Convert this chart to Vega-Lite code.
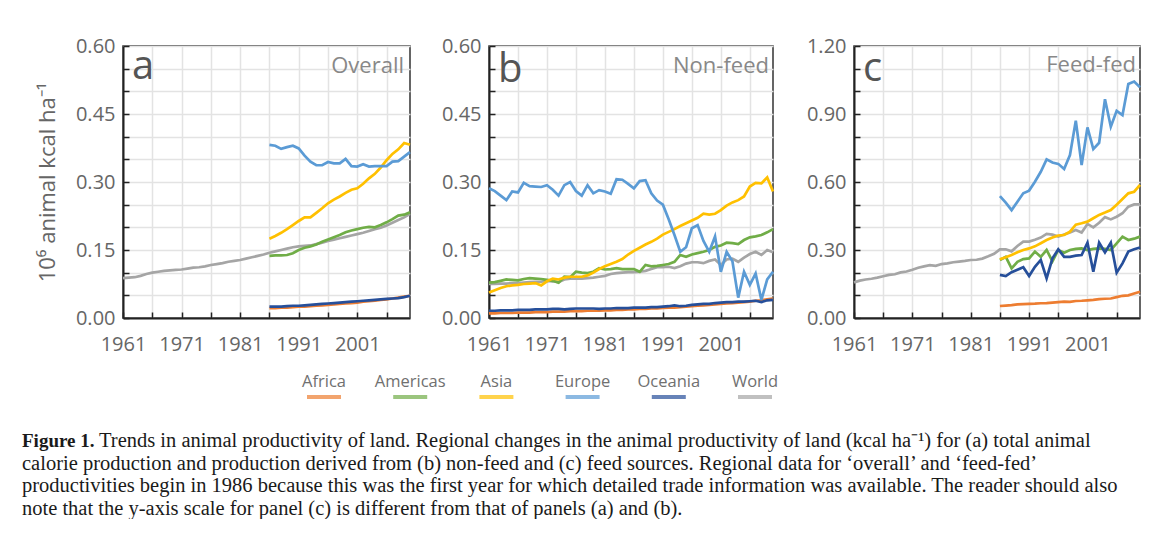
{
  "$schema": "https://vega.github.io/schema/vega-lite/v6.json",
  "background": "white",
  "padding": {"left": 22, "top": 35, "right": 0, "bottom": 0},
  "datasets": {
    "overall": [
      {"region":"World","year":1961,"value":0.088},{"region":"World","year":1962,"value":0.089},{"region":"World","year":1963,"value":0.090},{"region":"World","year":1964,"value":0.093},{"region":"World","year":1965,"value":0.097},
      {"region":"World","year":1966,"value":0.100},{"region":"World","year":1967,"value":0.102},{"region":"World","year":1968,"value":0.104},{"region":"World","year":1969,"value":0.105},{"region":"World","year":1970,"value":0.106},
      {"region":"World","year":1971,"value":0.107},{"region":"World","year":1972,"value":0.109},{"region":"World","year":1973,"value":0.111},{"region":"World","year":1974,"value":0.112},{"region":"World","year":1975,"value":0.114},
      {"region":"World","year":1976,"value":0.117},{"region":"World","year":1977,"value":0.119},{"region":"World","year":1978,"value":0.121},{"region":"World","year":1979,"value":0.124},{"region":"World","year":1980,"value":0.126},
      {"region":"World","year":1981,"value":0.128},{"region":"World","year":1982,"value":0.131},{"region":"World","year":1983,"value":0.134},{"region":"World","year":1984,"value":0.137},{"region":"World","year":1985,"value":0.140},
      {"region":"World","year":1986,"value":0.144},{"region":"World","year":1987,"value":0.147},{"region":"World","year":1988,"value":0.150},{"region":"World","year":1989,"value":0.153},{"region":"World","year":1990,"value":0.156},
      {"region":"World","year":1991,"value":0.158},{"region":"World","year":1992,"value":0.159},{"region":"World","year":1993,"value":0.160},{"region":"World","year":1994,"value":0.163},{"region":"World","year":1995,"value":0.166},
      {"region":"World","year":1996,"value":0.170},{"region":"World","year":1997,"value":0.173},{"region":"World","year":1998,"value":0.176},{"region":"World","year":1999,"value":0.179},{"region":"World","year":2000,"value":0.182},
      {"region":"World","year":2001,"value":0.185},{"region":"World","year":2002,"value":0.188},{"region":"World","year":2003,"value":0.192},{"region":"World","year":2004,"value":0.196},{"region":"World","year":2005,"value":0.199},
      {"region":"World","year":2006,"value":0.204},{"region":"World","year":2007,"value":0.210},{"region":"World","year":2008,"value":0.216},{"region":"World","year":2009,"value":0.222},{"region":"World","year":2010,"value":0.230},
      {"region":"Africa","year":1986,"value":0.022},{"region":"Africa","year":1987,"value":0.022},{"region":"Africa","year":1988,"value":0.023},{"region":"Africa","year":1989,"value":0.023},{"region":"Africa","year":1990,"value":0.024},
      {"region":"Africa","year":1991,"value":0.025},{"region":"Africa","year":1992,"value":0.025},{"region":"Africa","year":1993,"value":0.026},{"region":"Africa","year":1994,"value":0.027},{"region":"Africa","year":1995,"value":0.028},
      {"region":"Africa","year":1996,"value":0.029},{"region":"Africa","year":1997,"value":0.030},{"region":"Africa","year":1998,"value":0.031},{"region":"Africa","year":1999,"value":0.032},{"region":"Africa","year":2000,"value":0.033},
      {"region":"Africa","year":2001,"value":0.034},{"region":"Africa","year":2002,"value":0.036},{"region":"Africa","year":2003,"value":0.037},{"region":"Africa","year":2004,"value":0.038},{"region":"Africa","year":2005,"value":0.040},
      {"region":"Africa","year":2006,"value":0.041},{"region":"Africa","year":2007,"value":0.043},{"region":"Africa","year":2008,"value":0.045},{"region":"Africa","year":2009,"value":0.047},{"region":"Africa","year":2010,"value":0.049},
      {"region":"Americas","year":1986,"value":0.137},{"region":"Americas","year":1987,"value":0.138},{"region":"Americas","year":1988,"value":0.138},{"region":"Americas","year":1989,"value":0.139},{"region":"Americas","year":1990,"value":0.143},
      {"region":"Americas","year":1991,"value":0.150},{"region":"Americas","year":1992,"value":0.155},{"region":"Americas","year":1993,"value":0.158},{"region":"Americas","year":1994,"value":0.162},{"region":"Americas","year":1995,"value":0.168},
      {"region":"Americas","year":1996,"value":0.173},{"region":"Americas","year":1997,"value":0.178},{"region":"Americas","year":1998,"value":0.183},{"region":"Americas","year":1999,"value":0.189},{"region":"Americas","year":2000,"value":0.193},
      {"region":"Americas","year":2001,"value":0.196},{"region":"Americas","year":2002,"value":0.199},{"region":"Americas","year":2003,"value":0.201},{"region":"Americas","year":2004,"value":0.200},{"region":"Americas","year":2005,"value":0.205},
      {"region":"Americas","year":2006,"value":0.211},{"region":"Americas","year":2007,"value":0.218},{"region":"Americas","year":2008,"value":0.226},{"region":"Americas","year":2009,"value":0.228},{"region":"Americas","year":2010,"value":0.233},
      {"region":"Asia","year":1986,"value":0.175},{"region":"Asia","year":1987,"value":0.181},{"region":"Asia","year":1988,"value":0.188},{"region":"Asia","year":1989,"value":0.196},{"region":"Asia","year":1990,"value":0.205},
      {"region":"Asia","year":1991,"value":0.214},{"region":"Asia","year":1992,"value":0.222},{"region":"Asia","year":1993,"value":0.222},{"region":"Asia","year":1994,"value":0.232},{"region":"Asia","year":1995,"value":0.242},
      {"region":"Asia","year":1996,"value":0.253},{"region":"Asia","year":1997,"value":0.261},{"region":"Asia","year":1998,"value":0.268},{"region":"Asia","year":1999,"value":0.276},{"region":"Asia","year":2000,"value":0.283},
      {"region":"Asia","year":2001,"value":0.286},{"region":"Asia","year":2002,"value":0.296},{"region":"Asia","year":2003,"value":0.308},{"region":"Asia","year":2004,"value":0.318},{"region":"Asia","year":2005,"value":0.332},
      {"region":"Asia","year":2006,"value":0.348},{"region":"Asia","year":2007,"value":0.362},{"region":"Asia","year":2008,"value":0.372},{"region":"Asia","year":2009,"value":0.386},{"region":"Asia","year":2010,"value":0.382},
      {"region":"Europe","year":1986,"value":0.382},{"region":"Europe","year":1987,"value":0.380},{"region":"Europe","year":1988,"value":0.373},{"region":"Europe","year":1989,"value":0.377},{"region":"Europe","year":1990,"value":0.380},
      {"region":"Europe","year":1991,"value":0.374},{"region":"Europe","year":1992,"value":0.358},{"region":"Europe","year":1993,"value":0.345},{"region":"Europe","year":1994,"value":0.337},{"region":"Europe","year":1995,"value":0.337},
      {"region":"Europe","year":1996,"value":0.344},{"region":"Europe","year":1997,"value":0.341},{"region":"Europe","year":1998,"value":0.341},{"region":"Europe","year":1999,"value":0.351},{"region":"Europe","year":2000,"value":0.335},
      {"region":"Europe","year":2001,"value":0.334},{"region":"Europe","year":2002,"value":0.339},{"region":"Europe","year":2003,"value":0.334},{"region":"Europe","year":2004,"value":0.335},{"region":"Europe","year":2005,"value":0.335},
      {"region":"Europe","year":2006,"value":0.335},{"region":"Europe","year":2007,"value":0.345},{"region":"Europe","year":2008,"value":0.346},{"region":"Europe","year":2009,"value":0.356},{"region":"Europe","year":2010,"value":0.366},
      {"region":"Oceania","year":1986,"value":0.025},{"region":"Oceania","year":1987,"value":0.025},{"region":"Oceania","year":1988,"value":0.025},{"region":"Oceania","year":1989,"value":0.026},{"region":"Oceania","year":1990,"value":0.027},
      {"region":"Oceania","year":1991,"value":0.027},{"region":"Oceania","year":1992,"value":0.028},{"region":"Oceania","year":1993,"value":0.029},{"region":"Oceania","year":1994,"value":0.030},{"region":"Oceania","year":1995,"value":0.031},
      {"region":"Oceania","year":1996,"value":0.032},{"region":"Oceania","year":1997,"value":0.033},{"region":"Oceania","year":1998,"value":0.034},{"region":"Oceania","year":1999,"value":0.035},{"region":"Oceania","year":2000,"value":0.036},
      {"region":"Oceania","year":2001,"value":0.037},{"region":"Oceania","year":2002,"value":0.038},{"region":"Oceania","year":2003,"value":0.039},{"region":"Oceania","year":2004,"value":0.040},{"region":"Oceania","year":2005,"value":0.041},
      {"region":"Oceania","year":2006,"value":0.042},{"region":"Oceania","year":2007,"value":0.043},{"region":"Oceania","year":2008,"value":0.044},{"region":"Oceania","year":2009,"value":0.046},{"region":"Oceania","year":2010,"value":0.049}
    ],
    "nonfeed": [
      {"region":"World","year":1961,"value":0.075},{"region":"World","year":1962,"value":0.075},{"region":"World","year":1963,"value":0.076},{"region":"World","year":1964,"value":0.076},{"region":"World","year":1965,"value":0.077},
      {"region":"World","year":1966,"value":0.077},{"region":"World","year":1967,"value":0.078},{"region":"World","year":1968,"value":0.079},{"region":"World","year":1969,"value":0.080},{"region":"World","year":1970,"value":0.080},
      {"region":"World","year":1971,"value":0.082},{"region":"World","year":1972,"value":0.081},{"region":"World","year":1973,"value":0.079},{"region":"World","year":1974,"value":0.085},{"region":"World","year":1975,"value":0.087},
      {"region":"World","year":1976,"value":0.087},{"region":"World","year":1977,"value":0.087},{"region":"World","year":1978,"value":0.088},{"region":"World","year":1979,"value":0.089},{"region":"World","year":1980,"value":0.091},
      {"region":"World","year":1981,"value":0.093},{"region":"World","year":1982,"value":0.097},{"region":"World","year":1983,"value":0.099},{"region":"World","year":1984,"value":0.100},{"region":"World","year":1985,"value":0.101},
      {"region":"World","year":1986,"value":0.101},{"region":"World","year":1987,"value":0.102},{"region":"World","year":1988,"value":0.104},{"region":"World","year":1989,"value":0.108},{"region":"World","year":1990,"value":0.112},
      {"region":"World","year":1991,"value":0.112},{"region":"World","year":1992,"value":0.113},{"region":"World","year":1993,"value":0.110},{"region":"World","year":1994,"value":0.114},{"region":"World","year":1995,"value":0.120},
      {"region":"World","year":1996,"value":0.123},{"region":"World","year":1997,"value":0.123},{"region":"World","year":1998,"value":0.121},{"region":"World","year":1999,"value":0.126},{"region":"World","year":2000,"value":0.129},
      {"region":"World","year":2001,"value":0.117},{"region":"World","year":2002,"value":0.129},{"region":"World","year":2003,"value":0.131},{"region":"World","year":2004,"value":0.124},{"region":"World","year":2005,"value":0.133},
      {"region":"World","year":2006,"value":0.141},{"region":"World","year":2007,"value":0.146},{"region":"World","year":2008,"value":0.139},{"region":"World","year":2009,"value":0.150},{"region":"World","year":2010,"value":0.145},
      {"region":"Africa","year":1961,"value":0.010},{"region":"Africa","year":1962,"value":0.010},{"region":"Africa","year":1963,"value":0.011},{"region":"Africa","year":1964,"value":0.011},{"region":"Africa","year":1965,"value":0.011},
      {"region":"Africa","year":1966,"value":0.012},{"region":"Africa","year":1967,"value":0.012},{"region":"Africa","year":1968,"value":0.012},{"region":"Africa","year":1969,"value":0.013},{"region":"Africa","year":1970,"value":0.013},
      {"region":"Africa","year":1971,"value":0.013},{"region":"Africa","year":1972,"value":0.014},{"region":"Africa","year":1973,"value":0.014},{"region":"Africa","year":1974,"value":0.014},{"region":"Africa","year":1975,"value":0.015},
      {"region":"Africa","year":1976,"value":0.015},{"region":"Africa","year":1977,"value":0.015},{"region":"Africa","year":1978,"value":0.016},{"region":"Africa","year":1979,"value":0.016},{"region":"Africa","year":1980,"value":0.016},
      {"region":"Africa","year":1981,"value":0.017},{"region":"Africa","year":1982,"value":0.017},{"region":"Africa","year":1983,"value":0.018},{"region":"Africa","year":1984,"value":0.018},{"region":"Africa","year":1985,"value":0.019},
      {"region":"Africa","year":1986,"value":0.019},{"region":"Africa","year":1987,"value":0.020},{"region":"Africa","year":1988,"value":0.020},{"region":"Africa","year":1989,"value":0.021},{"region":"Africa","year":1990,"value":0.021},
      {"region":"Africa","year":1991,"value":0.022},{"region":"Africa","year":1992,"value":0.023},{"region":"Africa","year":1993,"value":0.023},{"region":"Africa","year":1994,"value":0.024},{"region":"Africa","year":1995,"value":0.025},
      {"region":"Africa","year":1996,"value":0.026},{"region":"Africa","year":1997,"value":0.027},{"region":"Africa","year":1998,"value":0.028},{"region":"Africa","year":1999,"value":0.029},{"region":"Africa","year":2000,"value":0.030},
      {"region":"Africa","year":2001,"value":0.031},{"region":"Africa","year":2002,"value":0.032},{"region":"Africa","year":2003,"value":0.033},{"region":"Africa","year":2004,"value":0.034},{"region":"Africa","year":2005,"value":0.035},
      {"region":"Africa","year":2006,"value":0.036},{"region":"Africa","year":2007,"value":0.038},{"region":"Africa","year":2008,"value":0.039},{"region":"Africa","year":2009,"value":0.041},{"region":"Africa","year":2010,"value":0.043},
      {"region":"Americas","year":1961,"value":0.078},{"region":"Americas","year":1962,"value":0.079},{"region":"Americas","year":1963,"value":0.082},{"region":"Americas","year":1964,"value":0.085},{"region":"Americas","year":1965,"value":0.084},
      {"region":"Americas","year":1966,"value":0.083},{"region":"Americas","year":1967,"value":0.086},{"region":"Americas","year":1968,"value":0.088},{"region":"Americas","year":1969,"value":0.087},{"region":"Americas","year":1970,"value":0.086},
      {"region":"Americas","year":1971,"value":0.084},{"region":"Americas","year":1972,"value":0.082},{"region":"Americas","year":1973,"value":0.078},{"region":"Americas","year":1974,"value":0.091},{"region":"Americas","year":1975,"value":0.090},
      {"region":"Americas","year":1976,"value":0.102},{"region":"Americas","year":1977,"value":0.100},{"region":"Americas","year":1978,"value":0.099},{"region":"Americas","year":1979,"value":0.102},{"region":"Americas","year":1980,"value":0.110},
      {"region":"Americas","year":1981,"value":0.107},{"region":"Americas","year":1982,"value":0.108},{"region":"Americas","year":1983,"value":0.110},{"region":"Americas","year":1984,"value":0.108},{"region":"Americas","year":1985,"value":0.108},
      {"region":"Americas","year":1986,"value":0.108},{"region":"Americas","year":1987,"value":0.102},{"region":"Americas","year":1988,"value":0.117},{"region":"Americas","year":1989,"value":0.114},{"region":"Americas","year":1990,"value":0.115},
      {"region":"Americas","year":1991,"value":0.117},{"region":"Americas","year":1992,"value":0.119},{"region":"Americas","year":1993,"value":0.124},{"region":"Americas","year":1994,"value":0.139},{"region":"Americas","year":1995,"value":0.135},
      {"region":"Americas","year":1996,"value":0.140},{"region":"Americas","year":1997,"value":0.143},{"region":"Americas","year":1998,"value":0.146},{"region":"Americas","year":1999,"value":0.150},{"region":"Americas","year":2000,"value":0.157},
      {"region":"Americas","year":2001,"value":0.160},{"region":"Americas","year":2002,"value":0.166},{"region":"Americas","year":2003,"value":0.165},{"region":"Americas","year":2004,"value":0.163},{"region":"Americas","year":2005,"value":0.172},
      {"region":"Americas","year":2006,"value":0.178},{"region":"Americas","year":2007,"value":0.180},{"region":"Americas","year":2008,"value":0.183},{"region":"Americas","year":2009,"value":0.189},{"region":"Americas","year":2010,"value":0.196},
      {"region":"Asia","year":1961,"value":0.056},{"region":"Asia","year":1962,"value":0.061},{"region":"Asia","year":1963,"value":0.066},{"region":"Asia","year":1964,"value":0.070},{"region":"Asia","year":1965,"value":0.072},
      {"region":"Asia","year":1966,"value":0.073},{"region":"Asia","year":1967,"value":0.075},{"region":"Asia","year":1968,"value":0.076},{"region":"Asia","year":1969,"value":0.077},{"region":"Asia","year":1970,"value":0.072},
      {"region":"Asia","year":1971,"value":0.081},{"region":"Asia","year":1972,"value":0.087},{"region":"Asia","year":1973,"value":0.085},{"region":"Asia","year":1974,"value":0.089},{"region":"Asia","year":1975,"value":0.091},
      {"region":"Asia","year":1976,"value":0.091},{"region":"Asia","year":1977,"value":0.091},{"region":"Asia","year":1978,"value":0.094},{"region":"Asia","year":1979,"value":0.100},{"region":"Asia","year":1980,"value":0.108},
      {"region":"Asia","year":1981,"value":0.114},{"region":"Asia","year":1982,"value":0.119},{"region":"Asia","year":1983,"value":0.124},{"region":"Asia","year":1984,"value":0.130},{"region":"Asia","year":1985,"value":0.140},
      {"region":"Asia","year":1986,"value":0.148},{"region":"Asia","year":1987,"value":0.155},{"region":"Asia","year":1988,"value":0.162},{"region":"Asia","year":1989,"value":0.168},{"region":"Asia","year":1990,"value":0.175},
      {"region":"Asia","year":1991,"value":0.184},{"region":"Asia","year":1992,"value":0.190},{"region":"Asia","year":1993,"value":0.196},{"region":"Asia","year":1994,"value":0.203},{"region":"Asia","year":1995,"value":0.209},
      {"region":"Asia","year":1996,"value":0.215},{"region":"Asia","year":1997,"value":0.221},{"region":"Asia","year":1998,"value":0.230},{"region":"Asia","year":1999,"value":0.228},{"region":"Asia","year":2000,"value":0.230},
      {"region":"Asia","year":2001,"value":0.238},{"region":"Asia","year":2002,"value":0.248},{"region":"Asia","year":2003,"value":0.255},{"region":"Asia","year":2004,"value":0.260},{"region":"Asia","year":2005,"value":0.268},
      {"region":"Asia","year":2006,"value":0.290},{"region":"Asia","year":2007,"value":0.298},{"region":"Asia","year":2008,"value":0.297},{"region":"Asia","year":2009,"value":0.310},{"region":"Asia","year":2010,"value":0.279},
      {"region":"Europe","year":1961,"value":0.286},{"region":"Europe","year":1962,"value":0.280},{"region":"Europe","year":1963,"value":0.270},{"region":"Europe","year":1964,"value":0.260},{"region":"Europe","year":1965,"value":0.279},
      {"region":"Europe","year":1966,"value":0.277},{"region":"Europe","year":1967,"value":0.298},{"region":"Europe","year":1968,"value":0.291},{"region":"Europe","year":1969,"value":0.290},{"region":"Europe","year":1970,"value":0.289},
      {"region":"Europe","year":1971,"value":0.293},{"region":"Europe","year":1972,"value":0.283},{"region":"Europe","year":1973,"value":0.270},{"region":"Europe","year":1974,"value":0.293},{"region":"Europe","year":1975,"value":0.300},
      {"region":"Europe","year":1976,"value":0.280},{"region":"Europe","year":1977,"value":0.270},{"region":"Europe","year":1978,"value":0.293},{"region":"Europe","year":1979,"value":0.275},{"region":"Europe","year":1980,"value":0.282},
      {"region":"Europe","year":1981,"value":0.279},{"region":"Europe","year":1982,"value":0.274},{"region":"Europe","year":1983,"value":0.306},{"region":"Europe","year":1984,"value":0.305},{"region":"Europe","year":1985,"value":0.296},
      {"region":"Europe","year":1986,"value":0.286},{"region":"Europe","year":1987,"value":0.302},{"region":"Europe","year":1988,"value":0.304},{"region":"Europe","year":1989,"value":0.275},{"region":"Europe","year":1990,"value":0.259},
      {"region":"Europe","year":1991,"value":0.250},{"region":"Europe","year":1992,"value":0.218},{"region":"Europe","year":1993,"value":0.183},{"region":"Europe","year":1994,"value":0.146},{"region":"Europe","year":1995,"value":0.156},
      {"region":"Europe","year":1996,"value":0.198},{"region":"Europe","year":1997,"value":0.205},{"region":"Europe","year":1998,"value":0.170},{"region":"Europe","year":1999,"value":0.146},{"region":"Europe","year":2000,"value":0.180},
      {"region":"Europe","year":2001,"value":0.102},{"region":"Europe","year":2002,"value":0.146},{"region":"Europe","year":2003,"value":0.125},{"region":"Europe","year":2004,"value":0.045},{"region":"Europe","year":2005,"value":0.102},
      {"region":"Europe","year":2006,"value":0.073},{"region":"Europe","year":2007,"value":0.098},{"region":"Europe","year":2008,"value":0.040},{"region":"Europe","year":2009,"value":0.085},{"region":"Europe","year":2010,"value":0.102},
      {"region":"Oceania","year":1961,"value":0.016},{"region":"Oceania","year":1962,"value":0.016},{"region":"Oceania","year":1963,"value":0.017},{"region":"Oceania","year":1964,"value":0.017},{"region":"Oceania","year":1965,"value":0.017},
      {"region":"Oceania","year":1966,"value":0.018},{"region":"Oceania","year":1967,"value":0.018},{"region":"Oceania","year":1968,"value":0.018},{"region":"Oceania","year":1969,"value":0.019},{"region":"Oceania","year":1970,"value":0.019},
      {"region":"Oceania","year":1971,"value":0.019},{"region":"Oceania","year":1972,"value":0.020},{"region":"Oceania","year":1973,"value":0.020},{"region":"Oceania","year":1974,"value":0.019},{"region":"Oceania","year":1975,"value":0.020},
      {"region":"Oceania","year":1976,"value":0.021},{"region":"Oceania","year":1977,"value":0.021},{"region":"Oceania","year":1978,"value":0.021},{"region":"Oceania","year":1979,"value":0.021},{"region":"Oceania","year":1980,"value":0.020},
      {"region":"Oceania","year":1981,"value":0.021},{"region":"Oceania","year":1982,"value":0.021},{"region":"Oceania","year":1983,"value":0.022},{"region":"Oceania","year":1984,"value":0.022},{"region":"Oceania","year":1985,"value":0.022},
      {"region":"Oceania","year":1986,"value":0.023},{"region":"Oceania","year":1987,"value":0.023},{"region":"Oceania","year":1988,"value":0.023},{"region":"Oceania","year":1989,"value":0.024},{"region":"Oceania","year":1990,"value":0.024},
      {"region":"Oceania","year":1991,"value":0.025},{"region":"Oceania","year":1992,"value":0.026},{"region":"Oceania","year":1993,"value":0.028},{"region":"Oceania","year":1994,"value":0.026},{"region":"Oceania","year":1995,"value":0.027},
      {"region":"Oceania","year":1996,"value":0.029},{"region":"Oceania","year":1997,"value":0.030},{"region":"Oceania","year":1998,"value":0.031},{"region":"Oceania","year":1999,"value":0.031},{"region":"Oceania","year":2000,"value":0.033},
      {"region":"Oceania","year":2001,"value":0.034},{"region":"Oceania","year":2002,"value":0.035},{"region":"Oceania","year":2003,"value":0.035},{"region":"Oceania","year":2004,"value":0.036},{"region":"Oceania","year":2005,"value":0.036},
      {"region":"Oceania","year":2006,"value":0.037},{"region":"Oceania","year":2007,"value":0.038},{"region":"Oceania","year":2008,"value":0.035},{"region":"Oceania","year":2009,"value":0.039},{"region":"Oceania","year":2010,"value":0.040}
    ],
    "feedfed": [
      {"region":"World","year":1961,"value":0.157},{"region":"World","year":1962,"value":0.165},{"region":"World","year":1963,"value":0.170},{"region":"World","year":1964,"value":0.173},{"region":"World","year":1965,"value":0.178},
      {"region":"World","year":1966,"value":0.184},{"region":"World","year":1967,"value":0.190},{"region":"World","year":1968,"value":0.193},{"region":"World","year":1969,"value":0.201},{"region":"World","year":1970,"value":0.205},
      {"region":"World","year":1971,"value":0.213},{"region":"World","year":1972,"value":0.222},{"region":"World","year":1973,"value":0.228},{"region":"World","year":1974,"value":0.233},{"region":"World","year":1975,"value":0.230},
      {"region":"World","year":1976,"value":0.238},{"region":"World","year":1977,"value":0.241},{"region":"World","year":1978,"value":0.246},{"region":"World","year":1979,"value":0.249},{"region":"World","year":1980,"value":0.252},
      {"region":"World","year":1981,"value":0.256},{"region":"World","year":1982,"value":0.257},{"region":"World","year":1983,"value":0.262},{"region":"World","year":1984,"value":0.272},{"region":"World","year":1985,"value":0.283},
      {"region":"World","year":1986,"value":0.303},{"region":"World","year":1987,"value":0.303},{"region":"World","year":1988,"value":0.294},{"region":"World","year":1989,"value":0.318},{"region":"World","year":1990,"value":0.337},
      {"region":"World","year":1991,"value":0.337},{"region":"World","year":1992,"value":0.345},{"region":"World","year":1993,"value":0.355},{"region":"World","year":1994,"value":0.371},{"region":"World","year":1995,"value":0.368},
      {"region":"World","year":1996,"value":0.359},{"region":"World","year":1997,"value":0.368},{"region":"World","year":1998,"value":0.377},{"region":"World","year":1999,"value":0.388},{"region":"World","year":2000,"value":0.377},
      {"region":"World","year":2001,"value":0.415},{"region":"World","year":2002,"value":0.400},{"region":"World","year":2003,"value":0.420},{"region":"World","year":2004,"value":0.445},{"region":"World","year":2005,"value":0.435},
      {"region":"World","year":2006,"value":0.447},{"region":"World","year":2007,"value":0.462},{"region":"World","year":2008,"value":0.491},{"region":"World","year":2009,"value":0.501},{"region":"World","year":2010,"value":0.501},
      {"region":"Africa","year":1986,"value":0.053},{"region":"Africa","year":1987,"value":0.055},{"region":"Africa","year":1988,"value":0.057},{"region":"Africa","year":1989,"value":0.060},{"region":"Africa","year":1990,"value":0.061},
      {"region":"Africa","year":1991,"value":0.062},{"region":"Africa","year":1992,"value":0.063},{"region":"Africa","year":1993,"value":0.065},{"region":"Africa","year":1994,"value":0.066},{"region":"Africa","year":1995,"value":0.068},
      {"region":"Africa","year":1996,"value":0.070},{"region":"Africa","year":1997,"value":0.072},{"region":"Africa","year":1998,"value":0.071},{"region":"Africa","year":1999,"value":0.075},{"region":"Africa","year":2000,"value":0.076},
      {"region":"Africa","year":2001,"value":0.078},{"region":"Africa","year":2002,"value":0.080},{"region":"Africa","year":2003,"value":0.083},{"region":"Africa","year":2004,"value":0.085},{"region":"Africa","year":2005,"value":0.086},
      {"region":"Africa","year":2006,"value":0.092},{"region":"Africa","year":2007,"value":0.098},{"region":"Africa","year":2008,"value":0.100},{"region":"Africa","year":2009,"value":0.108},{"region":"Africa","year":2010,"value":0.116},
      {"region":"Americas","year":1986,"value":0.256},{"region":"Americas","year":1987,"value":0.270},{"region":"Americas","year":1988,"value":0.219},{"region":"Americas","year":1989,"value":0.248},{"region":"Americas","year":1990,"value":0.260},
      {"region":"Americas","year":1991,"value":0.263},{"region":"Americas","year":1992,"value":0.293},{"region":"Americas","year":1993,"value":0.270},{"region":"Americas","year":1994,"value":0.300},{"region":"Americas","year":1995,"value":0.250},
      {"region":"Americas","year":1996,"value":0.300},{"region":"Americas","year":1997,"value":0.288},{"region":"Americas","year":1998,"value":0.300},{"region":"Americas","year":1999,"value":0.305},{"region":"Americas","year":2000,"value":0.307},
      {"region":"Americas","year":2001,"value":0.300},{"region":"Americas","year":2002,"value":0.305},{"region":"Americas","year":2003,"value":0.307},{"region":"Americas","year":2004,"value":0.305},{"region":"Americas","year":2005,"value":0.300},
      {"region":"Americas","year":2006,"value":0.329},{"region":"Americas","year":2007,"value":0.359},{"region":"Americas","year":2008,"value":0.344},{"region":"Americas","year":2009,"value":0.350},{"region":"Americas","year":2010,"value":0.359},
      {"region":"Asia","year":1986,"value":0.259},{"region":"Asia","year":1987,"value":0.268},{"region":"Asia","year":1988,"value":0.278},{"region":"Asia","year":1989,"value":0.290},{"region":"Asia","year":1990,"value":0.300},
      {"region":"Asia","year":1991,"value":0.307},{"region":"Asia","year":1992,"value":0.316},{"region":"Asia","year":1993,"value":0.330},{"region":"Asia","year":1994,"value":0.344},{"region":"Asia","year":1995,"value":0.355},
      {"region":"Asia","year":1996,"value":0.364},{"region":"Asia","year":1997,"value":0.366},{"region":"Asia","year":1998,"value":0.381},{"region":"Asia","year":1999,"value":0.412},{"region":"Asia","year":2000,"value":0.418},
      {"region":"Asia","year":2001,"value":0.425},{"region":"Asia","year":2002,"value":0.440},{"region":"Asia","year":2003,"value":0.455},{"region":"Asia","year":2004,"value":0.465},{"region":"Asia","year":2005,"value":0.476},
      {"region":"Asia","year":2006,"value":0.500},{"region":"Asia","year":2007,"value":0.525},{"region":"Asia","year":2008,"value":0.550},{"region":"Asia","year":2009,"value":0.557},{"region":"Asia","year":2010,"value":0.587},
      {"region":"Europe","year":1986,"value":0.538},{"region":"Europe","year":1987,"value":0.509},{"region":"Europe","year":1988,"value":0.476},{"region":"Europe","year":1989,"value":0.513},{"region":"Europe","year":1990,"value":0.550},
      {"region":"Europe","year":1991,"value":0.562},{"region":"Europe","year":1992,"value":0.601},{"region":"Europe","year":1993,"value":0.645},{"region":"Europe","year":1994,"value":0.700},{"region":"Europe","year":1995,"value":0.686},
      {"region":"Europe","year":1996,"value":0.680},{"region":"Europe","year":1997,"value":0.657},{"region":"Europe","year":1998,"value":0.719},{"region":"Europe","year":1999,"value":0.870},{"region":"Europe","year":2000,"value":0.675},
      {"region":"Europe","year":2001,"value":0.841},{"region":"Europe","year":2002,"value":0.745},{"region":"Europe","year":2003,"value":0.773},{"region":"Europe","year":2004,"value":0.965},{"region":"Europe","year":2005,"value":0.844},
      {"region":"Europe","year":2006,"value":0.914},{"region":"Europe","year":2007,"value":0.895},{"region":"Europe","year":2008,"value":1.032},{"region":"Europe","year":2009,"value":1.043},{"region":"Europe","year":2010,"value":1.018},
      {"region":"Oceania","year":1986,"value":0.190},{"region":"Oceania","year":1987,"value":0.185},{"region":"Oceania","year":1988,"value":0.202},{"region":"Oceania","year":1989,"value":0.213},{"region":"Oceania","year":1990,"value":0.224},
      {"region":"Oceania","year":1991,"value":0.185},{"region":"Oceania","year":1992,"value":0.226},{"region":"Oceania","year":1993,"value":0.256},{"region":"Oceania","year":1994,"value":0.175},{"region":"Oceania","year":1995,"value":0.263},
      {"region":"Oceania","year":1996,"value":0.303},{"region":"Oceania","year":1997,"value":0.270},{"region":"Oceania","year":1998,"value":0.270},{"region":"Oceania","year":1999,"value":0.275},{"region":"Oceania","year":2000,"value":0.278},
      {"region":"Oceania","year":2001,"value":0.332},{"region":"Oceania","year":2002,"value":0.204},{"region":"Oceania","year":2003,"value":0.332},{"region":"Oceania","year":2004,"value":0.289},{"region":"Oceania","year":2005,"value":0.332},
      {"region":"Oceania","year":2006,"value":0.200},{"region":"Oceania","year":2007,"value":0.241},{"region":"Oceania","year":2008,"value":0.293},{"region":"Oceania","year":2009,"value":0.303},{"region":"Oceania","year":2010,"value":0.311}
    ],
    "panels": [
      {"panel": "a", "letter": "a", "name": "Overall"},
      {"panel": "b", "letter": "b", "name": "Non-feed"},
      {"panel": "c", "letter": "c", "name": "Feed-fed"}
    ],
    "regions": [
      {"region": "Africa"}, {"region": "Americas"}, {"region": "Asia"},
      {"region": "Europe"}, {"region": "Oceania"}, {"region": "World"}
    ],
    "caption": [
      {"line": 1, "part": "lead", "text": "Figure 1."},
      {"line": 1, "part": "body", "text": "Trends in animal productivity of land. Regional changes in the animal productivity of land (kcal ha⁻¹) for (a) total animal"},
      {"line": 2, "part": "body", "text": "calorie production and production derived from (b) non-feed and (c) feed sources. Regional data for ‘overall’ and ‘feed-fed’"},
      {"line": 3, "part": "body", "text": "productivities begin in 1986 because this was the first year for which detailed trade information was available. The reader should also"},
      {"line": 4, "part": "body", "text": "note that the y-axis scale for panel (c) is different from that of panels (a) and (b)."}
    ]
  },
  "vconcat": [
    {
      "hconcat": [
        {
          "width": 287,
          "height": 272,
          "layer": [
            {
              "data": {"name": "overall"},
              "mark": {"type": "line", "strokeWidth": 2.7},
              "encoding": {
                "x": {"field": "year", "type": "quantitative", "scale": {"domain": [1961, 2010], "nice": false, "zero": false},
                  "axis": {"title": null, "tickCount": 100, "values": [1961, 1966, 1971, 1976, 1981, 1986, 1991, 1996, 2001, 2006], "labelExpr": "(datum.value - 1961) % 10 == 0 ? datum.value : ''"}},
                "y": {"field": "value", "type": "quantitative", "scale": {"domain": [0, 0.6], "nice": false},
                  "axis": {"title": "10⁶ animal kcal ha⁻¹", "tickCount": 100, "values": [0, 0.05, 0.1, 0.15, 0.2, 0.25, 0.3, 0.35, 0.4, 0.45, 0.5, 0.55, 0.6], "labelExpr": "round(datum.value * 20) % 3 == 0 ? format(datum.value, '.2f') : ''"}},
                "color": {"field": "region", "type": "nominal", "legend": null,
                  "scale": {"domain": ["Africa", "Americas", "Asia", "Europe", "Oceania", "World"], "range": ["#ED7D31", "#70AD47", "#FFC000", "#5B9BD5", "#264F9A", "#A5A5A5"]}}
              }
            },
            {
              "data": {"name": "panels"},
              "transform": [{"filter": "datum.panel == 'a'"}],
              "mark": {"type": "text", "align": "left", "baseline": "alphabetic", "dx": 9, "dy": 33, "fontSize": 40, "color": "#555"},
              "encoding": {"x": {"datum": 1961}, "y": {"datum": 0.6}, "text": {"field": "letter"}}
            },
            {
              "data": {"name": "panels"},
              "transform": [{"filter": "datum.panel == 'a'"}],
              "mark": {"type": "text", "align": "right", "baseline": "alphabetic", "dx": -6, "dy": 27, "fontSize": 22, "color": "#888"},
              "encoding": {"x": {"datum": 2010}, "y": {"datum": 0.6}, "text": {"field": "name"}}
            }
          ]
        },
        {
          "width": 284,
          "height": 272,
          "layer": [
            {
              "data": {"name": "nonfeed"},
              "mark": {"type": "line", "strokeWidth": 2.7},
              "encoding": {
                "x": {"field": "year", "type": "quantitative", "scale": {"domain": [1961, 2010], "nice": false, "zero": false},
                  "axis": {"title": null, "tickCount": 100, "values": [1961, 1966, 1971, 1976, 1981, 1986, 1991, 1996, 2001, 2006], "labelExpr": "(datum.value - 1961) % 10 == 0 ? datum.value : ''"}},
                "y": {"field": "value", "type": "quantitative", "scale": {"domain": [0, 0.6], "nice": false},
                  "axis": {"title": null, "tickCount": 100, "values": [0, 0.05, 0.1, 0.15, 0.2, 0.25, 0.3, 0.35, 0.4, 0.45, 0.5, 0.55, 0.6], "labelExpr": "round(datum.value * 20) % 3 == 0 ? format(datum.value, '.2f') : ''"}},
                "color": {"field": "region", "type": "nominal", "legend": null,
                  "scale": {"domain": ["Africa", "Americas", "Asia", "Europe", "Oceania", "World"], "range": ["#ED7D31", "#70AD47", "#FFC000", "#5B9BD5", "#264F9A", "#A5A5A5"]}}
              }
            },
            {
              "data": {"name": "panels"},
              "transform": [{"filter": "datum.panel == 'b'"}],
              "mark": {"type": "text", "align": "left", "baseline": "alphabetic", "dx": 9, "dy": 36, "fontSize": 40, "color": "#555"},
              "encoding": {"x": {"datum": 1961}, "y": {"datum": 0.6}, "text": {"field": "letter"}}
            },
            {
              "data": {"name": "panels"},
              "transform": [{"filter": "datum.panel == 'b'"}],
              "mark": {"type": "text", "align": "right", "baseline": "alphabetic", "dx": -4, "dy": 27, "fontSize": 22, "color": "#888"},
              "encoding": {"x": {"datum": 2010}, "y": {"datum": 0.6}, "text": {"field": "name"}}
            }
          ]
        },
        {
          "width": 286,
          "height": 272,
          "layer": [
            {
              "data": {"name": "feedfed"},
              "mark": {"type": "line", "strokeWidth": 2.7},
              "encoding": {
                "x": {"field": "year", "type": "quantitative", "scale": {"domain": [1961, 2010], "nice": false, "zero": false},
                  "axis": {"title": null, "tickCount": 100, "values": [1961, 1966, 1971, 1976, 1981, 1986, 1991, 1996, 2001, 2006], "labelExpr": "(datum.value - 1961) % 10 == 0 ? datum.value : ''"}},
                "y": {"field": "value", "type": "quantitative", "scale": {"domain": [0, 1.2], "nice": false},
                  "axis": {"title": null, "tickCount": 100, "minExtent": 50, "values": [0, 0.1, 0.2, 0.3, 0.4, 0.5, 0.6, 0.7, 0.8, 0.9, 1.0, 1.1, 1.2], "labelExpr": "round(datum.value * 10) % 3 == 0 ? format(datum.value, '.2f') : ''"}},
                "color": {"field": "region", "type": "nominal", "legend": null,
                  "scale": {"domain": ["Africa", "Americas", "Asia", "Europe", "Oceania", "World"], "range": ["#ED7D31", "#70AD47", "#FFC000", "#5B9BD5", "#264F9A", "#A5A5A5"]}}
              }
            },
            {
              "data": {"name": "panels"},
              "transform": [{"filter": "datum.panel == 'c'"}],
              "mark": {"type": "text", "align": "left", "baseline": "alphabetic", "dx": 9, "dy": 35, "fontSize": 40, "color": "#555"},
              "encoding": {"x": {"datum": 1961}, "y": {"datum": 1.2}, "text": {"field": "letter"}}
            },
            {
              "data": {"name": "panels"},
              "transform": [{"filter": "datum.panel == 'c'"}],
              "mark": {"type": "text", "align": "right", "baseline": "alphabetic", "dx": -4, "dy": 26, "fontSize": 22, "color": "#888"},
              "encoding": {"x": {"datum": 2010}, "y": {"datum": 1.2}, "text": {"field": "name"}}
            }
          ]
        }
      ],
      "spacing": 23
    },
    {
      "width": 1000,
      "height": 30,
      "view": {"stroke": null},
      "data": {"name": "regions"},
      "layer": [
        {
          "mark": {"type": "text", "baseline": "middle", "fontSize": 16.5, "color": "#707070"},
          "encoding": {
            "x": {"field": "region", "type": "nominal", "axis": null,
              "scale": {"type": "point", "domain": ["Africa", "Americas", "Asia", "Europe", "Oceania", "World"], "range": [201, 632], "padding": 0}},
            "y": {"datum": 2, "type": "quantitative", "scale": {"domain": [0, 2]}, "axis": null},
            "text": {"field": "region"}
          }
        },
        {
          "mark": {"type": "tick", "size": 34, "thickness": 4},
          "encoding": {
            "x": {"field": "region", "type": "nominal", "axis": null},
            "y": {"datum": 1, "type": "quantitative", "axis": null},
            "color": {"field": "region", "type": "nominal", "legend": null}
          }
        }
      ]
    },
    {
      "width": 1000,
      "height": 67.5,
      "view": {"stroke": null},
      "data": {"name": "caption"},
      "encoding": {
        "x": {"datum": 0, "type": "quantitative", "scale": {"domain": [0, 1]}, "axis": null},
        "y": {"field": "line", "type": "ordinal", "scale": {"type": "point", "padding": 0}, "axis": null},
        "text": {"field": "text"}
      },
      "layer": [
        {
          "transform": [{"filter": "datum.part == 'lead'"}],
          "mark": {"type": "text", "align": "left", "baseline": "middle", "dx": -101, "font": "Liberation Serif", "fontSize": 19, "fontWeight": "bold", "color": "#1a1a1a"}
        },
        {
          "transform": [{"filter": "datum.part == 'body' && datum.line == 1"}],
          "mark": {"type": "text", "align": "left", "baseline": "middle", "dx": -24, "font": "Liberation Serif", "fontSize": 20.5, "color": "#1a1a1a"}
        },
        {
          "transform": [{"filter": "datum.line > 1"}],
          "mark": {"type": "text", "align": "left", "baseline": "middle", "dx": -101, "font": "Liberation Serif", "fontSize": 20.5, "color": "#1a1a1a"}
        }
      ]
    }
  ],
  "spacing": 19,
  "config": {
    "font": "Open Sans",
    "view": {"stroke": "#333", "strokeWidth": 1.5},
    "axis": {
      "gridColor": "#e3e3e3",
      "gridWidth": 1.5,
      "domainColor": "#222",
      "domainWidth": 2,
      "tickColor": "#222",
      "tickWidth": 1.5,
      "tickSize": -6,
      "labelFont": "Open Sans",
      "labelFontSize": 20,
      "labelColor": "#666",
      "labelFlush": false,
      "labelOverlap": false,
      "titleFont": "Open Sans",
      "titleFontSize": 22,
      "titleFontWeight": "normal",
      "titleColor": "#666"
    },
    "axisX": {"labelPadding": 22},
    "axisY": {"labelPadding": 14, "titlePadding": 16},
    "text": {"font": "Open Sans"}
  }
}
